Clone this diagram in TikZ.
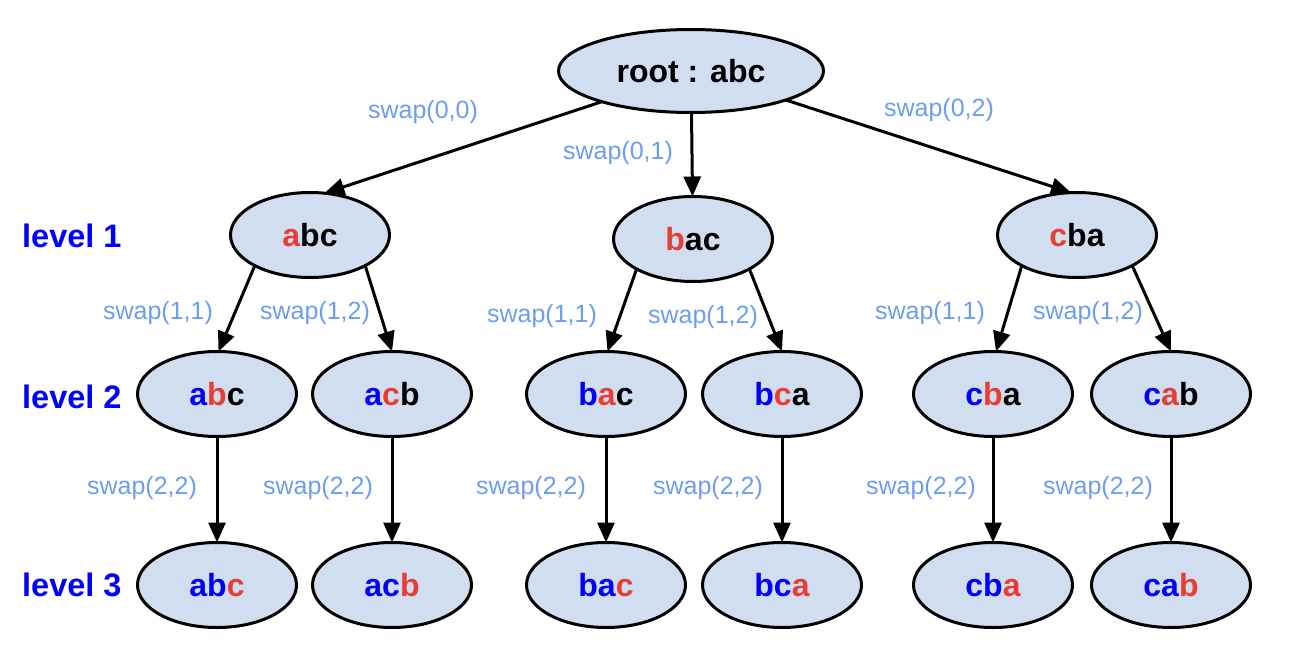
\documentclass[tikz,border=0pt]{standalone}
\usepackage{fontspec}
\setmainfont{Liberation Sans}
\usetikzlibrary{shapes.geometric,arrows.meta}
\definecolor{nodefill}{RGB}{208,222,239}
\definecolor{lblblue}{RGB}{109,158,235}
\definecolor{txtblue}{RGB}{0,0,255}
\definecolor{txtred}{RGB}{234,60,50}
\newcommand{\myred}[1]{\textcolor{txtred}{#1}}
\newcommand{\myblue}[1]{\textcolor{txtblue}{#1}}
\begin{document}
\begin{tikzpicture}[x=1pt,y=-1pt,
  perm/.style={ellipse,draw=black,line width=3pt,fill=nodefill,minimum width=159pt,minimum height=85pt,inner sep=0pt,outer sep=0pt,font=\fontsize{32}{38}\selectfont\bfseries},
  edgelbl/.style={text=lblblue,font=\fontsize{25}{30}\selectfont,inner sep=0pt},
  lvl/.style={text=txtblue,font=\fontsize{32.5}{38}\selectfont\bfseries,anchor=west,inner sep=0pt},
  arr/.style={line width=3pt,-{Triangle[length=20pt,width=17pt]}}]
\useasboundingbox (0,0) rectangle (1308,666);

% root
\node[perm,minimum width=265pt,minimum height=83pt] (root) at (691,71) {root : abc};

% level 1
\node[perm] (a1) at (310,235) {\myred{a}bc};
\node[perm] (b1) at (693,239) {\myred{b}ac};
\node[perm] (c1) at (1077,235) {\myred{c}ba};

% level 2
\node[perm] (a2) at (217,394) {\myblue{a}\myred{b}c};
\node[perm] (b2) at (392,394) {\myblue{a}\myred{c}b};
\node[perm] (c2) at (606,394) {\myblue{b}\myred{a}c};
\node[perm] (d2) at (782,394) {\myblue{b}\myred{c}a};
\node[perm] (e2) at (993,394) {\myblue{c}\myred{b}a};
\node[perm] (f2) at (1171,394) {\myblue{c}\myred{a}b};

% level 3
\node[perm] (a3) at (217,585) {\myblue{ab}\myred{c}};
\node[perm] (b3) at (392,585) {\myblue{ac}\myred{b}};
\node[perm] (c3) at (606,585) {\myblue{ba}\myred{c}};
\node[perm] (d3) at (782,585) {\myblue{bc}\myred{a}};
\node[perm] (e3) at (993,585) {\myblue{cb}\myred{a}};
\node[perm] (f3) at (1171,585) {\myblue{ca}\myred{b}};

% level labels
\node[lvl] (l1) at (22,236) {level 1};
\node[lvl] (l2) at (22,397) {level 2};
\node[lvl] (l3) at (22,585) {level 3};

% connectors
\draw[arr] (root.199) -- (a1.71);
\draw[arr] (root) -- (b1);
\draw[arr] (root.343) -- (c1.98);

\draw[arr] (a1.209) -- (a2.88);
\draw[arr] (a1.331) -- (b2.north);
\draw[arr] (b1.208) -- (c2.88);
\draw[arr] (b1.332) -- (d2.north);
\draw[arr] (c1.209) -- (e2.86);
\draw[arr] (c1.331) -- (f2.north);

\draw[arr] (a2) -- (a3);
\draw[arr] (b2) -- (b3);
\draw[arr] (c2) -- (c3);
\draw[arr] (d2) -- (d3);
\draw[arr] (e2) -- (e3);
\draw[arr] (f2) -- (f3);

% connector labels
\node[edgelbl] (s00) at (423,112) {swap(0,0)};
\node[edgelbl] (s01) at (618,153) {swap(0,1)};
\node[edgelbl] (s02) at (939,110) {swap(0,2)};

\node[edgelbl] (s11a) at (158,313) {swap(1,1)};
\node[edgelbl] (s12a) at (315,313) {swap(1,2)};
\node[edgelbl] (s11b) at (542,316) {swap(1,1)};
\node[edgelbl] (s12b) at (703,317) {swap(1,2)};
\node[edgelbl] (s11c) at (930,313) {swap(1,1)};
\node[edgelbl] (s12c) at (1088,313) {swap(1,2)};

\node[edgelbl] (s22a) at (142,488) {swap(2,2)};
\node[edgelbl] (s22b) at (318,488) {swap(2,2)};
\node[edgelbl] (s22c) at (531,488) {swap(2,2)};
\node[edgelbl] (s22d) at (708,488) {swap(2,2)};
\node[edgelbl] (s22e) at (921,488) {swap(2,2)};
\node[edgelbl] (s22f) at (1098,488) {swap(2,2)};
\end{tikzpicture}
\end{document}
